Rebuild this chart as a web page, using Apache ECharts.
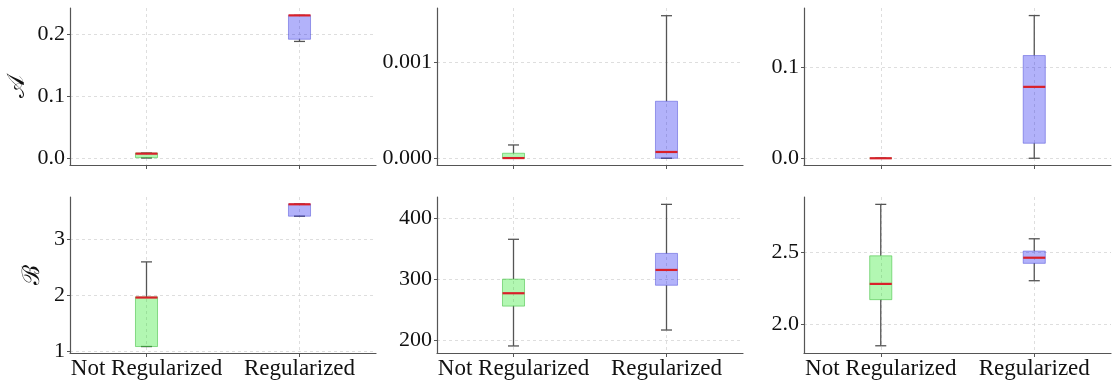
<!DOCTYPE html>
<html>
<head>
<meta charset="utf-8">
<script src="https://cdn.jsdelivr.net/npm/echarts@6/dist/echarts.min.js"></script>
<style>
html,body{margin:0;padding:0;background:#fff;}
#chart{width:1112px;height:385px;}
</style>
</head>
<body>
<div id="chart"></div>
<script>
// ---- data ----
const categories = ['Not Regularized', 'Regularized'];
// each box: [whiskerLow, q1, median, q3, whiskerHigh]
const boxesA1 = [[0, 0.0005, 0.007, 0.008, 0.008], [0.188, 0.1915, 0.230, 0.230, 0.230]];
const boxesA2 = [[0, 0, 0.000002, 0.000052, 0.000138], [0, 0, 0.000065, 0.000592, 0.00148]];
const boxesA3 = [[0, 0, 0, 0, 0], [0, 0.0165, 0.0784, 0.1128, 0.1567]];
const boxesB1 = [[1.08, 1.08, 1.96, 1.97, 2.60], [3.42, 3.42, 3.634, 3.64, 3.64]];
const boxesB2 = [[191, 256, 277, 300, 365], [217, 290, 315, 342, 422]];
const boxesB3 = [[1.85, 2.169, 2.278, 2.472, 2.828], [2.30, 2.42, 2.459, 2.505, 2.59]];
const ticksA1 = [0, 0.1, 0.2];
const ticksA2 = [0, 0.001];
const ticksA3 = [0, 0.1];
const ticksB1 = [1, 2, 3];
const ticksB2 = [200, 300, 400];
const ticksB3 = [2.0, 2.5];
const rowNames = ['𝒜', 'ℬ'];

// ---- layout / style ----
const panels = [
  {boxes: boxesA1, ticks: ticksA1, dec: 1, min: -0.0113, max: 0.2419, left: 70, top: 8, width: 306, height: 157, row: 0, col: 0},
  {boxes: boxesA2, ticks: ticksA2, dec: 3, min: -0.00007, max: 0.00156, left: 437, top: 8, width: 306, height: 157, row: 0, col: 1},
  {boxes: boxesA3, ticks: ticksA3, dec: 1, min: -0.0074, max: 0.165, left: 804, top: 8, width: 307, height: 157, row: 0, col: 2},
  {boxes: boxesB1, ticks: ticksB1, dec: 0, min: 0.964, max: 3.765, left: 70, top: 197, width: 306, height: 156, row: 1, col: 0},
  {boxes: boxesB2, ticks: ticksB2, dec: 0, min: 179.5, max: 434, left: 437, top: 197, width: 306, height: 156, row: 1, col: 1},
  {boxes: boxesB3, ticks: ticksB3, dec: 1, min: 1.80, max: 2.879, left: 804, top: 197, width: 307, height: 156, row: 1, col: 2}
];
const FONT = "'Liberation Serif', 'DejaVu Serif', serif";
const AXIS_COLOR = '#555';
const GRID_LINE = {show: true, lineStyle: {color: '#d6d6d6', type: [3, 3], width: 0.8}};
const FILLS = ['rgba(0,230,0,0.30)', 'rgba(0,0,240,0.30)'];
const STROKES = ['rgba(60,190,60,0.55)', 'rgba(60,60,210,0.45)'];
const BOX_W = 0.144;

const grids = [], xAxes = [], yAxes = [], series = [];
panels.forEach((p, i) => {
  grids.push({left: p.left, top: p.top, width: p.width, height: p.height, containLabel: false});
  xAxes.push({
    type: 'value', gridIndex: i, min: -0.5, max: 1.5,
    axisLine: {show: true, onZero: false, lineStyle: {color: AXIS_COLOR, width: 1.2}},
    axisTick: {show: true, customValues: [0, 1], length: 4, lineStyle: {color: AXIS_COLOR}},
    axisLabel: {show: p.row === 1, customValues: [0, 1], formatter: v => categories[Math.round(v)],
      fontFamily: FONT, fontSize: 23, color: '#111', margin: 4},
    splitLine: GRID_LINE
  });
  yAxes.push({
    type: 'value', gridIndex: i, min: p.min, max: p.max,
    name: p.col === 0 ? rowNames[p.row] : '',
    nameLocation: 'middle', nameRotate: 90,
    nameGap: p.row === 0 ? 40 : 25,
    nameTextStyle: {fontFamily: FONT, fontSize: 24, color: '#111'},
    axisLine: {show: true, onZero: false, lineStyle: {color: AXIS_COLOR, width: 1.2}},
    axisTick: {show: true, customValues: p.ticks, length: 3, lineStyle: {color: AXIS_COLOR}},
    axisLabel: {customValues: p.ticks, formatter: v => Number(v).toFixed(p.dec),
      fontFamily: FONT, fontSize: 22, color: '#111', margin: 5},
    splitLine: GRID_LINE
  });
  series.push({
    type: 'custom', xAxisIndex: i, yAxisIndex: i, clip: false,
    data: p.boxes.map((b, k) => [k].concat(b)),
    encode: {x: 0, y: [1, 2, 3, 4, 5]},
    renderItem: (params, api) => {
      const k = api.value(0);
      const pLo = api.coord([k, api.value(1)]);
      const pQ1 = api.coord([k, api.value(2)]);
      const pMed = api.coord([k, api.value(3)]);
      const pQ3 = api.coord([k, api.value(4)]);
      const pHi = api.coord([k, api.value(5)]);
      const bw = api.size([BOX_W, 0])[0];
      const cx = pLo[0];
      const wStyle = {stroke: '#555', lineWidth: 1.3};
      const children = [
        {type: 'line', shape: {x1: cx, y1: pLo[1], x2: cx, y2: pQ1[1]}, style: wStyle},
        {type: 'line', shape: {x1: cx, y1: pQ3[1], x2: cx, y2: pHi[1]}, style: wStyle},
        {type: 'line', shape: {x1: cx - bw / 4, y1: pLo[1], x2: cx + bw / 4, y2: pLo[1]}, style: wStyle},
        {type: 'line', shape: {x1: cx - bw / 4, y1: pHi[1], x2: cx + bw / 4, y2: pHi[1]}, style: wStyle},
        {type: 'rect', shape: {x: cx - bw / 2, y: pQ3[1], width: bw, height: pQ1[1] - pQ3[1]},
          style: {fill: FILLS[k], stroke: STROKES[k], lineWidth: 1}},
        {type: 'line', shape: {x1: cx - bw / 2, y1: pMed[1], x2: cx + bw / 2, y2: pMed[1]},
          style: {stroke: '#d9202a', lineWidth: 2.2}}
      ];
      return {type: 'group', children: children};
    }
  });
});

const chart = echarts.init(document.getElementById('chart'), null, {renderer: 'canvas'});
chart.setOption({
  animation: false,
  backgroundColor: '#fff',
  grid: grids, xAxis: xAxes, yAxis: yAxes, series: series
});
</script>
</body>
</html>
